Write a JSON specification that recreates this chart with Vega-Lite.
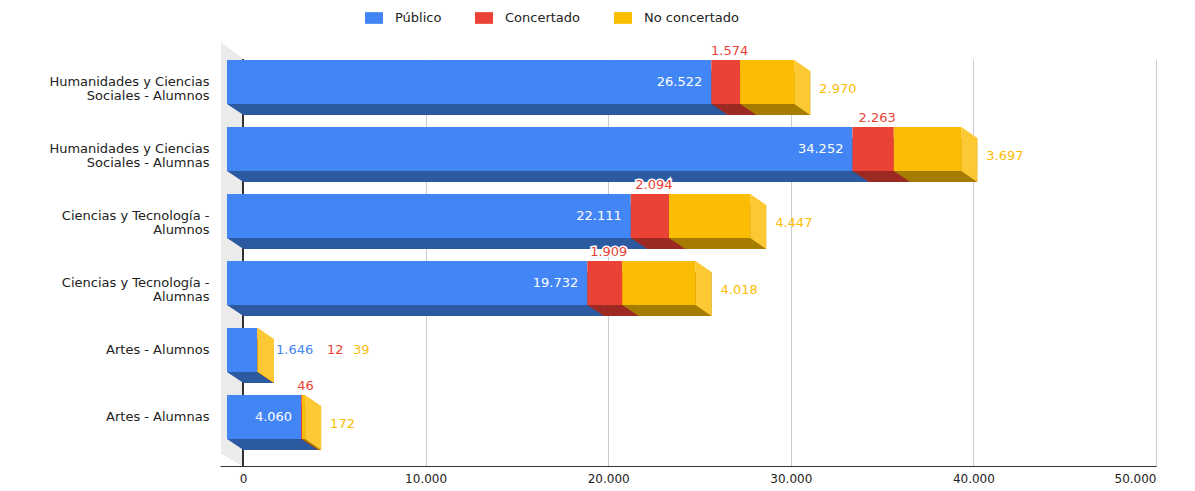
{
  "$schema": "https://vega.github.io/schema/vega-lite/v6.json",
  "width": 936,
  "height": 407,
  "autosize": {"type": "none"},
  "padding": {"left": 220, "top": 59, "right": 39, "bottom": 25},
  "background": "white",
  "config": {
    "view": {"stroke": null},
    "locale": {"number": {"decimal": ",", "thousands": ".", "grouping": [3], "currency": ["", " €"]}},
    "font": "DejaVu Sans",
    "axisX": {"grid": true, "ticks": false, "labelPadding": 7, "labelFontSize": 12, "labelColor": "#222222", "labelFont": "DejaVu Sans", "domainColor": "#333333", "domainWidth": 1, "gridColor": "#cccccc", "gridWidth": 1, "gridOpacity": 1},
    "axisY": {"ticks": false, "domain": false, "grid": false, "labelPadding": 11, "labelFontSize": 13, "labelColor": "#222222", "labelFont": "DejaVu Sans", "labelLimit": 300, "labelLineHeight": 14, "labelOffset": -11}
  },
  "data": {"values": [
    {"cat": "Humanidades y Ciencias\nSociales -  Alumnos", "tipo": "Público", "valor": 26522},
    {"cat": "Humanidades y Ciencias\nSociales -  Alumnos", "tipo": "Concertado", "valor": 1574},
    {"cat": "Humanidades y Ciencias\nSociales -  Alumnos", "tipo": "No concertado", "valor": 2970},
    {"cat": "Humanidades y Ciencias\nSociales - Alumnas", "tipo": "Público", "valor": 34252},
    {"cat": "Humanidades y Ciencias\nSociales - Alumnas", "tipo": "Concertado", "valor": 2263},
    {"cat": "Humanidades y Ciencias\nSociales - Alumnas", "tipo": "No concertado", "valor": 3697},
    {"cat": "Ciencias y Tecnología -\nAlumnos", "tipo": "Público", "valor": 22111},
    {"cat": "Ciencias y Tecnología -\nAlumnos", "tipo": "Concertado", "valor": 2094},
    {"cat": "Ciencias y Tecnología -\nAlumnos", "tipo": "No concertado", "valor": 4447},
    {"cat": "Ciencias y Tecnología -\nAlumnas", "tipo": "Público", "valor": 19732},
    {"cat": "Ciencias y Tecnología -\nAlumnas", "tipo": "Concertado", "valor": 1909},
    {"cat": "Ciencias y Tecnología -\nAlumnas", "tipo": "No concertado", "valor": 4018},
    {"cat": "Artes - Alumnos", "tipo": "Público", "valor": 1646},
    {"cat": "Artes - Alumnos", "tipo": "Concertado", "valor": 12},
    {"cat": "Artes - Alumnos", "tipo": "No concertado", "valor": 39},
    {"cat": "Artes - Alumnas", "tipo": "Público", "valor": 4060},
    {"cat": "Artes - Alumnas", "tipo": "Concertado", "valor": 46},
    {"cat": "Artes - Alumnas", "tipo": "No concertado", "valor": 172}
  ]},
  "transform": [
    {"calculate": "indexof(['Público','Concertado','No concertado'], datum.tipo)", "as": "ord"},
    {"stack": "valor", "groupby": ["cat"], "sort": [{"field": "ord", "order": "ascending"}], "as": ["x0", "x1"]},
    {"joinaggregate": [{"op": "sum", "field": "valor", "as": "total"}], "groupby": ["cat"]},
    {"calculate": "(datum.x0 + datum.x1) / 2", "as": "xm"}
  ],
  "layer": [
    {
      "mark": {"type": "point", "shape": "M-22,-219.5L0,-203.5L0,203.5L-22,190.5Z", "size": 4, "filled": true, "opacity": 1, "color": "#ebebeb", "strokeWidth": 0},
      "encoding": {
        "x": {"datum": 0, "type": "quantitative", "title": null,
              "scale": {"domain": [-1260, 50000], "nice": false, "zero": false},
              "axis": {"values": [0, 10000, 20000, 30000, 40000, 50000], "format": ",d", "grid": true}}
      }
    },
    {
      "mark": {"type": "rule", "color": "#333333", "strokeWidth": 1},
      "encoding": {
        "x": {"datum": 0, "type": "quantitative", "title": null}
      }
    },
    {
      "encoding": {
        "y": {"field": "cat", "type": "nominal", "sort": null, "title": null,
              "scale": {"paddingInner": 0.343, "paddingOuter": 0.209, "align": 0.43},
              "axis": {"labelExpr": "split(datum.label, '\\n')", "labelAlign": "right", "labelBaseline": "middle"}}
      },
      "layer": [
        {
          "mark": {"type": "bar", "opacity": 1},
          "encoding": {
            "x": {"field": "x0", "type": "quantitative", "title": null},
            "x2": {"field": "x1"},
            "color": {"condition": [{"test": "datum.tipo == 'Público'", "value": "#2c5aa0"}, {"test": "datum.tipo == 'Concertado'", "value": "#9c2a23"}], "value": "#a67c00"}
          }
        },
        {
          "mark": {"type": "point", "shape": "M-16,11L0.5,11L0.5,22Z", "size": 4, "filled": true, "opacity": 1, "strokeWidth": 0},
          "encoding": {
            "x": {"field": "x0", "type": "quantitative", "title": null},
            "color": {"condition": [{"test": "datum.tipo == 'Público'", "value": "#2c5aa0"}, {"test": "datum.tipo == 'Concertado'", "value": "#9c2a23"}], "value": "#a67c00"}
          }
        },
        {
          "transform": [{"filter": "datum.tipo == 'No concertado'"}],
          "mark": {"type": "point", "shape": "M-16,-33L0,-22L0,22L-16,11Z", "size": 4, "filled": true, "opacity": 1, "strokeWidth": 0, "color": "#fcc934"},
          "encoding": {
            "x": {"field": "x1", "type": "quantitative", "title": null}
          }
        },
        {
          "mark": {"type": "bar", "opacity": 1, "xOffset": -16, "x2Offset": -16, "yOffset": -11, "y2Offset": -11},
          "encoding": {
            "x": {"field": "x0", "type": "quantitative", "title": null},
            "x2": {"field": "x1"},
            "color": {"field": "tipo", "type": "nominal", "title": null,
                      "scale": {"domain": ["Público", "Concertado", "No concertado"], "range": ["#4285f4", "#ea4335", "#fbbc04"]},
                      "legend": {"orient": "none", "legendX": 145, "legendY": -50, "direction": "horizontal", "title": null,
                                 "symbolType": "M-1,-0.65L1,-0.65L1,0.65L-1,0.65Z", "symbolSize": 324, "symbolStrokeWidth": 0, "symbolOpacity": 1,
                                 "labelFont": "DejaVu Sans", "labelFontSize": 13, "labelColor": "#222222", "labelOffset": 12, "columnPadding": 33, "padding": 0}}
          }
        },
        {
          "transform": [{"filter": "datum.tipo == 'Público' && datum.total >= 3000"}],
          "mark": {"type": "text", "align": "right", "baseline": "middle", "dx": -25, "dy": -11, "fontSize": 13, "font": "DejaVu Sans", "color": "#ffffff"},
          "encoding": {"x": {"field": "x1", "type": "quantitative", "title": null}, "text": {"field": "valor", "type": "quantitative", "format": ",d"}}
        },
        {
          "transform": [{"filter": "datum.tipo == 'Público' && datum.total < 3000"}],
          "mark": {"type": "text", "align": "left", "baseline": "middle", "dx": 2, "dy": -11, "fontSize": 13, "font": "DejaVu Sans", "color": "#4285f4"},
          "encoding": {"x": {"field": "total", "type": "quantitative", "title": null}, "text": {"field": "valor", "type": "quantitative", "format": ",d"}}
        },
        {
          "transform": [{"filter": "datum.tipo == 'Concertado' && datum.total >= 3000"}],
          "mark": {"type": "text", "align": "center", "baseline": "middle", "dx": -12, "dy": -42, "fontSize": 13, "font": "DejaVu Sans", "fill": "#ffffff", "stroke": "#ffffff", "strokeWidth": 3},
          "encoding": {"x": {"field": "xm", "type": "quantitative", "title": null}, "text": {"field": "valor", "type": "quantitative", "format": ",d"}}
        },
        {
          "transform": [{"filter": "datum.tipo == 'Concertado' && datum.total >= 3000"}],
          "mark": {"type": "text", "align": "center", "baseline": "middle", "dx": -12, "dy": -42, "fontSize": 13, "font": "DejaVu Sans", "color": "#ea4335"},
          "encoding": {"x": {"field": "xm", "type": "quantitative", "title": null}, "text": {"field": "valor", "type": "quantitative", "format": ",d"}}
        },
        {
          "transform": [{"filter": "datum.tipo == 'Concertado' && datum.total < 3000"}],
          "mark": {"type": "text", "align": "left", "baseline": "middle", "dx": 53, "dy": -11, "fontSize": 13, "font": "DejaVu Sans", "color": "#ea4335"},
          "encoding": {"x": {"field": "total", "type": "quantitative", "title": null}, "text": {"field": "valor", "type": "quantitative", "format": ",d"}}
        },
        {
          "transform": [{"filter": "datum.tipo == 'No concertado' && datum.total >= 3000"}],
          "mark": {"type": "text", "align": "left", "baseline": "middle", "dx": 9, "dy": -4, "fontSize": 13, "font": "DejaVu Sans", "color": "#fbbc04"},
          "encoding": {"x": {"field": "total", "type": "quantitative", "title": null}, "text": {"field": "valor", "type": "quantitative", "format": ",d"}}
        },
        {
          "transform": [{"filter": "datum.tipo == 'No concertado' && datum.total < 3000"}],
          "mark": {"type": "text", "align": "left", "baseline": "middle", "dx": 79, "dy": -11, "fontSize": 13, "font": "DejaVu Sans", "color": "#fbbc04"},
          "encoding": {"x": {"field": "total", "type": "quantitative", "title": null}, "text": {"field": "valor", "type": "quantitative", "format": ",d"}}
        }
      ]
    }
  ]
}
